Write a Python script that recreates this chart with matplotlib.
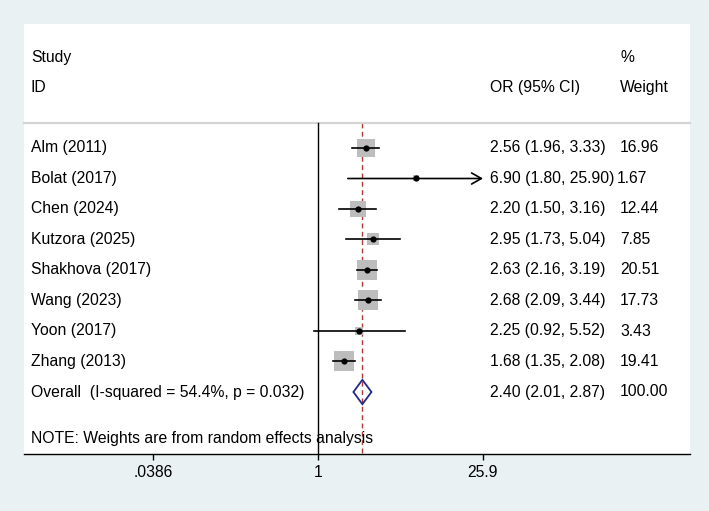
import numpy as np
import matplotlib
matplotlib.use("Agg")
import matplotlib.pyplot as plt
from matplotlib.patches import Polygon
from matplotlib.transforms import blended_transform_factory

# ---- data ----
studies = ["Alm (2011)", "Bolat (2017)", "Chen (2024)", "Kutzora (2025)",
           "Shakhova (2017)", "Wang (2023)", "Yoon (2017)", "Zhang (2013)"]
odds = [2.56, 6.90, 2.20, 2.95, 2.63, 2.68, 2.25, 1.68]
ci_low = [1.96, 1.80, 1.50, 1.73, 2.16, 2.09, 0.92, 1.35]
ci_high = [3.33, 25.90, 3.16, 5.04, 3.19, 3.44, 5.52, 2.08]
weights = [16.96, 1.67, 12.44, 7.85, 20.51, 17.73, 3.43, 19.41]
overall_label = "Overall  (I-squared = 54.4%, p = 0.032)"
overall = [2.40, 2.01, 2.87]
overall_weight = 100.00
tick_values = [0.0386, 1, 25.9]
tick_labels = [".0386", "1", "25.9"]
note = "NOTE: Weights are from random effects analysis"

plt.rcParams['font.family'] = ['Liberation Sans', 'DejaVu Sans']
FS = 11.3

W, H = 709, 511
fig = plt.figure(figsize=(W / 100, H / 100), dpi=100)
fig.patch.set_facecolor('#e9f1f3')

L, R, T, B = 24, 690, 24, 454
ax = fig.add_axes([L / W, 1 - B / H, (R - L) / W, (B - T) / H])
ax.set_facecolor('white')

pxu = 50.7  # pixels per ln unit
x0 = 318
ax.set_xlim((L - x0) / pxu, (R - x0) / pxu)
row0, rowh = 148, 30.5
ax.set_ylim((B - row0) / rowh, (T - row0) / rowh)

for s in ['top', 'right', 'left']:
    ax.spines[s].set_visible(False)
ax.spines['bottom'].set_linewidth(1.0)
ax.set_yticks([])
ax.set_xticks(np.log(tick_values))
ax.set_xticklabels(tick_labels, fontsize=FS)
ax.tick_params(axis='x', length=4, width=1.0, pad=4)

tr = blended_transform_factory(ax.transAxes, ax.transData)
xs_study, xs_or, xs_w = 0.0105, 0.699, 0.895
xs_w_shift = (617 - L) / (R - L)

hdr_line = -0.82
ax.plot([0, 1], [hdr_line, hdr_line], transform=tr, color='#d4d4d4', lw=1.6, clip_on=False)

ax.text(xs_study, -2.97, "Study", transform=tr, fontsize=FS, va='center', ha='left')
ax.text(xs_study, -1.98, "ID", transform=tr, fontsize=FS, va='center', ha='left')
ax.text(xs_or, -1.98, "OR (95% CI)", transform=tr, fontsize=FS, va='center', ha='left')
ax.text(xs_w, -2.97, "%", transform=tr, fontsize=FS, va='center', ha='left')
ax.text(xs_w, -1.98, "Weight", transform=tr, fontsize=FS, va='center', ha='left')

ybot = ax.get_ylim()[0]
ax.plot([0, 0], [hdr_line, ybot], color='black', lw=1.0)
ln_ov = np.log(overall[0])
ax.plot([ln_ov, ln_ov], [hdr_line, ybot], color='#b03a3a', lw=1.0,
        dashes=(3.5, 2.5), zorder=1)

xmax_ln = np.log(max(tick_values))
for i, (name, o, lo, hi, w) in enumerate(zip(studies, odds, ci_low, ci_high, weights)):
    side_pt = 4.6 * np.sqrt(w) * 0.72
    ax.plot(np.log(o), i, marker='s', ms=side_pt, mew=0, color='#bdbdbd', zorder=2)
    if hi >= max(tick_values):
        ax.annotate('', xy=(xmax_ln, i), xytext=(np.log(lo), i),
                    arrowprops=dict(arrowstyle='->,head_length=0.7,head_width=0.4',
                                    lw=1.2, color='black', shrinkA=0, shrinkB=0), zorder=3)
    else:
        ax.plot([np.log(lo), np.log(hi)], [i, i], color='black', lw=1.2, zorder=3)
    ax.plot(np.log(o), i, marker='o', ms=4.5, color='black', mew=0, zorder=4)
    ax.text(xs_study, i, name, transform=tr, fontsize=FS, va='center', ha='left')
    ax.text(xs_or, i, f"{o:.2f} ({lo:.2f}, {hi:.2f})", transform=tr, fontsize=FS,
            va='center', ha='left')
    ax.text(xs_w if hi < 10 else xs_w_shift, i, f"{w:.2f}", transform=tr, fontsize=FS,
            va='center', ha='left')

r = len(studies)
dh = 0.4
diam = Polygon([(np.log(overall[1]), r), (ln_ov, r - dh), (np.log(overall[2]), r),
                (ln_ov, r + dh)], closed=True, facecolor='none', edgecolor='#1f2a8a',
               lw=1.3, zorder=5)
ax.add_patch(diam)
ax.text(xs_study, r, overall_label, transform=tr, fontsize=FS, va='center', ha='left')
ax.text(xs_or, r, f"{overall[0]:.2f} ({overall[1]:.2f}, {overall[2]:.2f})", transform=tr,
        fontsize=FS, va='center', ha='left')
ax.text(xs_w, r, f"{overall_weight:.2f}", transform=tr, fontsize=FS, va='center', ha='left')

ax.text(xs_study, 9.54, note, transform=tr, fontsize=FS, va='center', ha='left')

fig.savefig("out.png", dpi=100, facecolor=fig.get_facecolor())
